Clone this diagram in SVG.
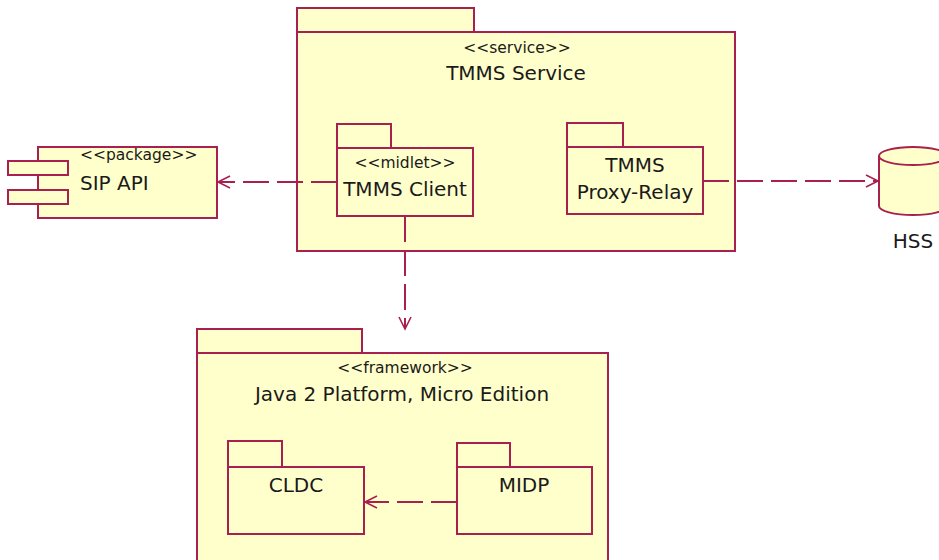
<svg xmlns="http://www.w3.org/2000/svg" width="939" height="560" viewBox="0 0 939 560">
<defs>
<style>
.b{fill:#ffffcc;stroke:#a8204f;stroke-width:2}
.t{font-family:"DejaVu Sans",Verdana,sans-serif;fill:#1a1a1a}
.s{font-size:15.5px}
.l{font-size:20px}
.c{stroke:#a8204f;stroke-width:2;fill:none;stroke-dasharray:26,8}
</style>
<marker id="arr" markerWidth="16" markerHeight="16" refX="14" refY="8" orient="auto" markerUnits="userSpaceOnUse">
<path d="M2,2 L14,8 L2,14" fill="none" stroke="#a8204f" stroke-width="1.6"/>
</marker>
</defs>
<rect width="939" height="560" fill="#ffffff"/>
<g id="tmms-service">
<rect class="b" x="297" y="8" width="177" height="24"/>
<rect class="b" x="297" y="32" width="438" height="219"/>
<text class="t s" x="517" y="53" text-anchor="middle">&lt;&lt;service&gt;&gt;</text>
<text class="t l" x="516" y="80" text-anchor="middle">TMMS Service</text>
</g>
<g id="tmms-client">
<rect class="b" x="337" y="124" width="54" height="24"/>
<rect class="b" x="337" y="148" width="136" height="68"/>
<text class="t s" x="405" y="168" text-anchor="middle">&lt;&lt;midlet&gt;&gt;</text>
<text class="t l" x="405" y="196" text-anchor="middle">TMMS Client</text>
</g>
<g id="tmms-proxy-relay">
<rect class="b" x="567" y="123" width="56" height="24"/>
<rect class="b" x="567" y="147" width="136" height="67"/>
<text class="t l" x="635" y="172" text-anchor="middle">TMMS</text>
<text class="t l" x="635" y="199" text-anchor="middle">Proxy-Relay</text>
</g>
<g id="sip-api">
<rect class="b" x="38" y="147" width="179" height="71"/>
<rect class="b" x="8" y="161" width="60" height="14"/>
<rect class="b" x="8" y="190" width="60" height="14"/>
<text class="t s" x="80" y="160">&lt;&lt;package&gt;&gt;</text>
<text class="t l" x="80" y="190">SIP API</text>
</g>
<g id="hss">
<path class="b" d="M879,156 L879,206 A34,9 0 0 0 947,206 L947,156 A34,9 0 0 0 879,156 Z"/>
<path class="b" d="M879,156 A34,9 0 0 0 947,156" fill="none"/>
<text class="t l" x="913" y="248" text-anchor="middle">HSS</text>
</g>
<g id="j2me">
<rect class="b" x="197" y="329" width="165" height="24"/>
<rect class="b" x="197" y="353" width="411" height="215"/>
<text class="t s" x="405" y="373" text-anchor="middle">&lt;&lt;framework&gt;&gt;</text>
<text class="t l" x="402" y="401" text-anchor="middle">Java 2 Platform, Micro Edition</text>
</g>
<g id="cldc">
<rect class="b" x="228" y="441" width="54" height="26"/>
<rect class="b" x="228" y="467" width="136" height="67"/>
<text class="t l" x="296" y="492" text-anchor="middle">CLDC</text>
</g>
<g id="midp">
<rect class="b" x="457" y="443" width="53" height="24"/>
<rect class="b" x="457" y="467" width="135" height="67"/>
<text class="t l" x="524" y="492" text-anchor="middle">MIDP</text>
</g>
<g id="connectors">
<line class="c" x1="337" y1="182" x2="218" y2="182" marker-end="url(#arr)"/>
<line class="c" x1="703" y1="181" x2="878" y2="181" marker-end="url(#arr)"/>
<line class="c" x1="405" y1="216" x2="405" y2="329" marker-end="url(#arr)"/>
<line class="c" x1="457" y1="502" x2="365" y2="502" marker-end="url(#arr)"/>
</g>
</svg>
